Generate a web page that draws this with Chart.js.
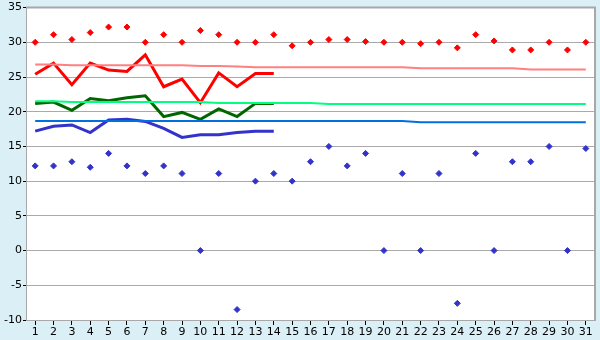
<!DOCTYPE html>
<html>
<head>
<meta charset="utf-8">
<script src="https://cdn.jsdelivr.net/npm/chart.js@4"></script>
<style>
  html, body { margin: 0; padding: 0; background: #daeff6; }
  #wrap { width: 600px; height: 340px; }
</style>
</head>
<body>
<div id="wrap"><canvas id="myChart" width="600" height="340"></canvas></div>
<script>
// days of the month
const days = [];
for (let d = 1; d <= 31; d++) days.push(String(d));

// daily highs (red) and lows (blue)
const dayMax = [30.0, 31.1, 30.4, 31.4, 32.2, 32.2, 30.0, 31.1, 30.0, 31.7, 31.1, 30.0, 30.0, 31.1, 29.5, 30.0,
  30.4, 30.4, 30.1, 30.0, 30.0, 29.8, 30.0, 29.2, 31.1, 30.2, 28.9, 28.9, 30.0, 28.9, 30.0];
const dayMin = [12.2, 12.2, 12.8, 12.0, 14.0, 12.2, 11.1, 12.2, 11.1, 0, 11.1, -8.5, 10.0, 11.1, 10.0, 12.8,
  15.0, 12.2, 14.0, 0, 11.1, 0, 11.1, -7.6, 14.0, 0, 12.8, 12.8, 15.0, 0, 14.7];

// running means, first 14 days only
const meanMax = [25.4, 27.0, 23.9, 27.0, 26.0, 25.8, 28.2, 23.6, 24.7, 21.3, 25.6, 23.6, 25.5, 25.5];
const meanAvg = [21.2, 21.4, 20.2, 21.9, 21.6, 22.0, 22.3, 19.3, 19.9, 18.9, 20.4, 19.3, 21.2, 21.2];
const meanMin = [17.2, 17.9, 18.1, 17.0, 18.8, 18.9, 18.6, 17.6, 16.3, 16.7, 16.7, 17.0, 17.2, 17.2];

// normals
const normMax = [26.8, 26.8, 26.7, 26.7, 26.7, 26.7, 26.7, 26.7, 26.7, 26.6, 26.6, 26.5, 26.4, 26.4, 26.4, 26.4,
  26.4, 26.4, 26.4, 26.4, 26.4, 26.25, 26.25, 26.25, 26.25, 26.25, 26.25, 26.1, 26.1, 26.1, 26.1];
const normAvg = [21.5, 21.5, 21.4, 21.4, 21.4, 21.4, 21.4, 21.4, 21.4, 21.4, 21.25, 21.25, 21.25, 21.25, 21.25, 21.25,
  21.1, 21.1, 21.1, 21.1, 21.1, 21.1, 21.1, 21.1, 21.1, 21.1, 21.1, 21.1, 21.1, 21.1, 21.1];
const normMin = [18.65, 18.65, 18.65, 18.65, 18.65, 18.65, 18.65, 18.65, 18.65, 18.65, 18.65, 18.65, 18.65, 18.65, 18.65, 18.65,
  18.65, 18.65, 18.65, 18.65, 18.65, 18.5, 18.5, 18.5, 18.5, 18.5, 18.5, 18.5, 18.5, 18.5, 18.5];

const yMin = -10, yMax = 35, yStep = 5;

// white plot area + gray frame
const frame = {
  id: 'frame',
  beforeDraw(chart) {
    const a = chart.chartArea, ctx = chart.ctx;
    ctx.save();
    ctx.fillStyle = '#ffffff';
    ctx.fillRect(a.left, a.top, a.right - a.left, a.bottom - a.top);
    ctx.restore();
  },
  afterDraw(chart) {
    const a = chart.chartArea, ctx = chart.ctx;
    ctx.save();
    ctx.strokeStyle = '#a8a8a8';
    ctx.lineWidth = 2;
    ctx.beginPath();
    ctx.moveTo(a.left, a.top);
    ctx.lineTo(a.right, a.top);
    ctx.lineTo(a.right, a.bottom);
    ctx.stroke();
    ctx.restore();
  }
};

function lineSet(label, data, color, width) {
  return { type: 'line', label: label, data: data, borderColor: color, backgroundColor: color,
    borderWidth: width, pointRadius: 0, tension: 0, fill: false, spanGaps: false };
}
function dotSet(label, data, color) {
  return { type: 'line', label: label, data: data, showLine: false, borderColor: color, backgroundColor: color,
    pointStyle: 'rectRot', pointRadius: 3, borderWidth: 1 };
}

const pad = arr => arr.concat(new Array(days.length - arr.length).fill(null));

new Chart(document.getElementById('myChart'), {
  type: 'line',
  data: {
    labels: days,
    datasets: [
      lineSet('normMax', normMax, '#ff8080', 2),
      lineSet('normAvg', normAvg, '#00ff80', 2),
      lineSet('normMin', normMin, '#0070e0', 2),
      lineSet('meanMax', pad(meanMax), '#ff0000', 3),
      lineSet('meanAvg', pad(meanAvg), '#006600', 3),
      lineSet('meanMin', pad(meanMin), '#3333cc', 3),
      dotSet('max', dayMax, '#ff0000'),
      dotSet('min', dayMin, '#3333cc')
    ]
  },
  options: {
    responsive: false,
    animation: false,
    layout: { padding: { top: 5, right: 5, left: 0, bottom: 0 } },
    plugins: { legend: { display: false }, tooltip: { enabled: false } },
    scales: {
      x: {
        offset: true,
        grid: { display: true, drawOnChartArea: false, drawTicks: true, tickLength: 5, tickColor: '#000', offset: false },
        border: { color: '#a8a8a8', width: 1 },
        ticks: { color: '#000', font: { family: 'DejaVu Sans', size: 11 }, maxRotation: 0, autoSkip: false, padding: 1 },
        afterFit(s) { s.height = 20; }
      },
      y: {
        min: yMin, max: yMax,
        grid: { color: '#aaaaaa', lineWidth: 1, tickLength: 3, tickColor: '#000' },
        border: { color: '#a8a8a8', width: 1 },
        ticks: { stepSize: yStep, color: '#000', font: { family: 'DejaVu Sans', size: 11 }, padding: 1 },
        afterFit(s) { s.width = 26; }
      }
    }
  },
  plugins: [frame]
});
</script>
</body>
</html>
